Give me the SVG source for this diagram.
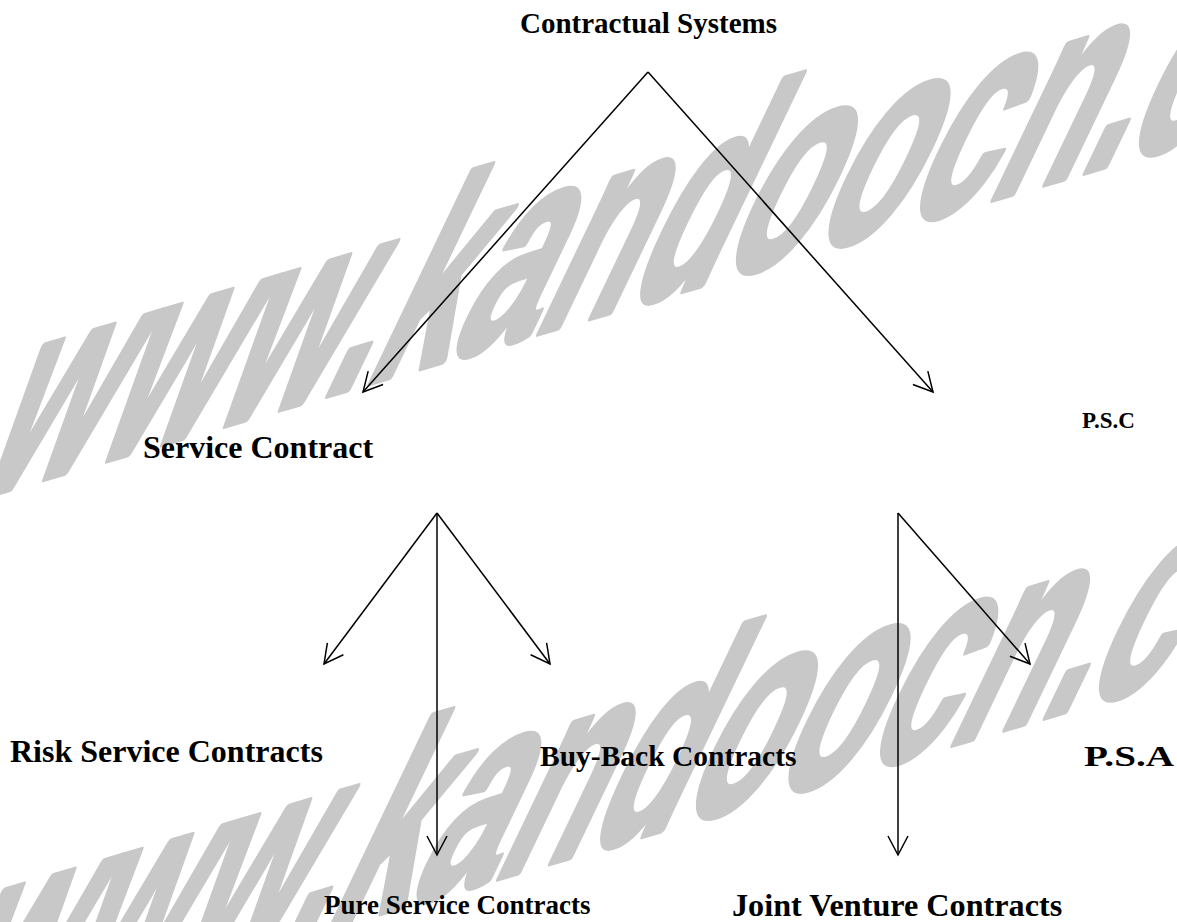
<svg xmlns="http://www.w3.org/2000/svg" width="1177" height="922" viewBox="0 0 1177 922">
<style>
.wm{font-family:"Liberation Sans",Arial,sans-serif;font-weight:bold;font-size:100px;fill:#c8c8c8;stroke:#c8c8c8;stroke-width:3;stroke-linejoin:round}
.lbl{font-family:"Liberation Serif","Times New Roman",serif;font-weight:bold;fill:#000}
.c{stroke:#000;stroke-width:1.5;fill:none;marker-end:url(#ah)}
</style>
<defs>
<marker id="ah" markerUnits="userSpaceOnUse" markerWidth="30" markerHeight="30" refX="0" refY="0" viewBox="-25 -15 30 30" orient="auto">
<path d="M-19,-10 L0,0 L-19,10" fill="none" stroke="#000" stroke-width="1.5"/>
</marker>
</defs>
<rect width="1177" height="922" fill="#fff"/>
<g id="watermark">
<text class="wm" transform="matrix(1.515,-0.446,-1.393,2.907,-30,500)">www.kandoocn.com</text>
<text class="wm" transform="matrix(1.515,-0.446,-1.393,2.907,-70,1045)">www.kandoocn.com</text>
</g>
<g id="connectors">
<line class="c" x1="648" y1="72" x2="363" y2="392"/>
<line class="c" x1="648" y1="72" x2="933" y2="392"/>
<line class="c" x1="437" y1="513" x2="324" y2="664"/>
<line class="c" x1="437" y1="513" x2="437" y2="855"/>
<line class="c" x1="437" y1="513" x2="550" y2="664"/>
<line class="c" x1="898" y1="513" x2="898" y2="855"/>
<line class="c" x1="898" y1="513" x2="1030" y2="664"/>
</g>
<g id="n-contractual"><text class="lbl" x="520" y="33" font-size="29">Contractual Systems</text></g>
<g id="n-service"><text class="lbl" x="143" y="458" font-size="32">Service Contract</text></g>
<g id="n-psc"><text class="lbl" x="1082" y="428" font-size="23">P.S.C</text></g>
<g id="n-risk"><text class="lbl" x="10" y="762" font-size="32">Risk Service Contracts</text></g>
<g id="n-buyback"><text class="lbl" x="540" y="766" font-size="29.5">Buy-Back Contracts</text></g>
<g id="n-psa"><text class="lbl" x="1084" y="766" font-size="30" textLength="90" lengthAdjust="spacingAndGlyphs">P.S.A</text></g>
<g id="n-pure"><text class="lbl" x="324" y="914" font-size="27">Pure Service Contracts</text></g>
<g id="n-joint"><text class="lbl" x="732" y="916" font-size="32.2">Joint Venture Contracts</text></g>
</svg>
